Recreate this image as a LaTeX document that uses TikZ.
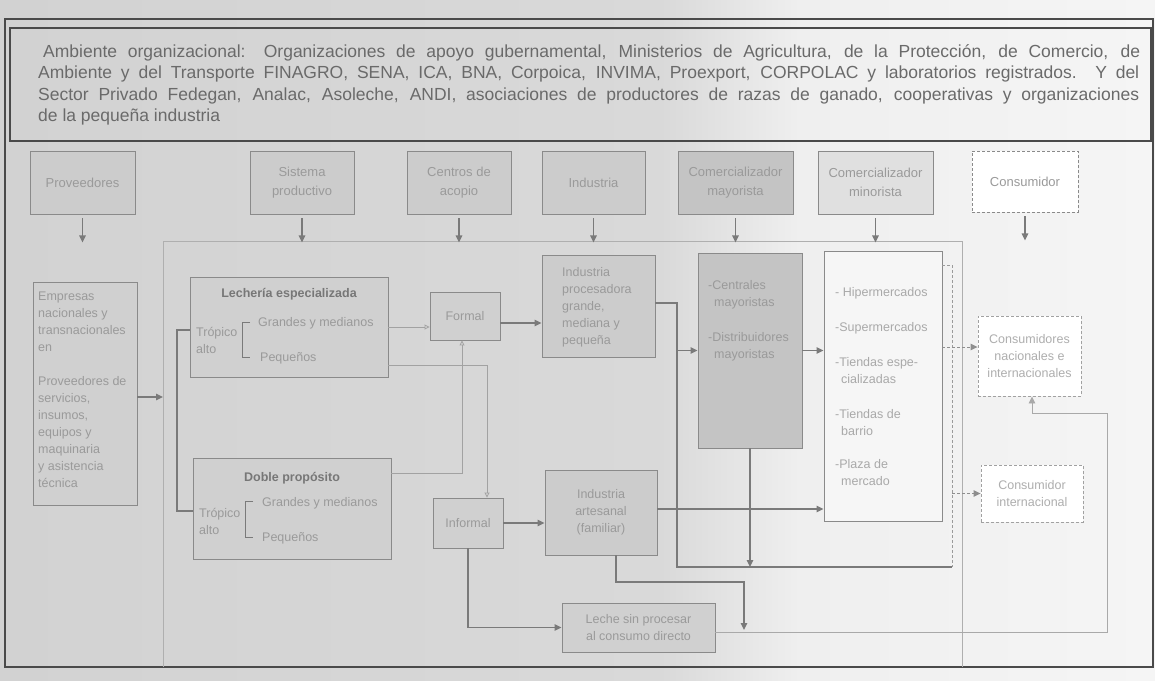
\documentclass[tikz,border=0pt]{standalone}
\usepackage{fontspec}
\setmainfont{Liberation Sans}
\usetikzlibrary{arrows.meta}
\definecolor{bgL}{HTML}{D2D2D2}
\definecolor{bgM}{HTML}{D9D9D9}
\definecolor{bgR}{HTML}{EFEFEF}
\definecolor{bgW}{HTML}{F5F5F5}
\definecolor{boxcol}{HTML}{8A8A8A}
\definecolor{lncol}{HTML}{7A7A7A}
\definecolor{txtcol}{HTML}{9A9A9A}
\definecolor{ttlcol}{HTML}{777777}
\definecolor{hdrcol}{HTML}{6A6A6A}
\definecolor{framecol}{HTML}{4A4A4A}
\definecolor{fillA}{HTML}{CCCCCC}
\definecolor{fillB}{HTML}{C4C4C4}
\definecolor{fillC}{HTML}{E0E0E0}
\definecolor{fillL}{HTML}{D0D0D0}
\definecolor{fillW}{HTML}{F6F6F6}
\newcommand\hdrfnt{\fontsize{17.5}{21}\selectfont}
\newcommand\topfnt{\fontsize{13}{19}\selectfont}
\newcommand\bodyfnt{\fontsize{12.5}{17}\selectfont}
\newcommand\ttlfnt{\fontsize{12.5}{17}\selectfont\bfseries}
\begin{document}
\begin{tikzpicture}[x=1pt,y=-1pt,
  box/.style={draw=boxcol, line width=0.9pt, inner sep=0pt, align=center, text=txtcol, font=\topfnt},
  bbox/.style={box, font=\bodyfnt},
  txt/.style={inner sep=0pt, text=txtcol, font=\bodyfnt, align=left},
  hdr/.style={inner sep=0pt, text=hdrcol, font=\hdrfnt},
  arr/.style={draw=lncol, line width=1.3pt, -{Triangle[length=7pt,width=6.5pt]}},
  ln/.style={draw=lncol, line width=1.3pt},
  farr/.style={draw=lncol!70, line width=0.8pt, -{Triangle[open,length=5pt,width=5pt]}},
  darr/.style={draw=lncol!85, line width=1pt, densely dashed, -{Triangle[length=7pt,width=6.5pt]}},
  dln/.style={draw=lncol!75, line width=0.9pt, densely dashed},
  fbarr/.style={draw=lncol!65, line width=0.9pt, -{Triangle[length=7pt,width=6.5pt]}},
  frame/.style={draw=framecol, line width=1.5pt},
]
\useasboundingbox (0,0) rectangle (1155,680);
% scanned page background
\shade[left color=bgL, right color=bgM] (0,0) rectangle (660,680);
\shade[left color=bgM, right color=bgR] (660,0) rectangle (800,680);
\shade[left color=bgR, right color=bgW] (800,0) rectangle (1155,680);

% frames
\draw[frame] (5,19) rectangle (1153,667);
\draw[frame, line width=1.3pt] (10,28) rectangle (1151,141);
\draw[draw=lncol!60, line width=0.8pt] (163,667) -- (163,241) -- (962,241) -- (962,667);

% header text
\node[hdr, anchor=base west] (h1) at (43,57) {\makebox[1097pt][s]{Ambiente organizacional: Organizaciones de apoyo gubernamental, Ministerios de Agricultura, de la Protección, de Comercio, de}};
\node[hdr, anchor=base west] (h2) at (38,78.5) {\makebox[1101pt][s]{Ambiente y del Transporte FINAGRO, SENA, ICA, BNA, Corpoica, INVIMA, Proexport, CORPOLAC y laboratorios registrados. Y del}};
\node[hdr, anchor=base west] (h3) at (38,100) {\makebox[1101pt][s]{Sector Privado Fedegan, Analac, Asoleche, ANDI, asociaciones de productores de razas de ganado, cooperativas y organizaciones}};
\node[hdr, anchor=base west] (h4) at (38,121.5) {de la pequeña industria};

% top row
\node[box, fill=fillA, minimum width=105pt, minimum height=63pt] (prov) at (82.5,182.5) {Proveedores};
\node[box, fill=fillA, minimum width=104pt, minimum height=63pt] (sist) at (302,182.5) {Sistema\\productivo};
\node[box, fill=fillA, minimum width=104pt, minimum height=63pt] (cent) at (459,182.5) {Centros de\\acopio};
\node[box, fill=fillA, minimum width=103pt, minimum height=63pt] (indu) at (593.5,182.5) {Industria};
\node[box, fill=fillB, minimum width=115pt, minimum height=63pt] (cmay) at (735.5,182.5) {Comercializador\\mayorista};
\node[box, fill=fillC, minimum width=115pt, minimum height=63pt] (cmin) at (875.5,182.5) {Comercializador\\minorista};
\node[box, fill=white, densely dashed, minimum width=106pt, minimum height=61pt] (cons) at (1025,181.5) {Consumidor};
\foreach \n in {prov,sist,cent,indu,cmay,cmin,cons}
  \draw[arr] ([yshift=-4pt]\n.south) -- ++(0,24);

% proveedores detail
\node[bbox, fill=fillL, minimum width=104pt, minimum height=223pt] (emp) at (85,393.5) {};
\node[txt, anchor=north west] (empt) at (38,292) {Empresas\\nacionales y\\transnacionales\\en\\[17pt]Proveedores de\\servicios,\\insumos,\\equipos y\\maquinaria\\y asistencia\\técnica};
\coordinate (fl) at (163,397);
\draw[arr] (emp.east |- fl) -- (fl);

% sistema productivo
\node[bbox, fill=fillL, minimum width=198pt, minimum height=100pt] (lech) at (289,327) {};
\node[txt, font=\ttlfnt, text=ttlcol] (lecht) at (289,294) {Lechería especializada};
\node[txt, anchor=north west] (ta1) at (196,327) {Trópico\\alto};
\node[txt, anchor=west] (g1) at (258,323) {Grandes y medianos};
\node[txt, anchor=west] (p1) at (260,358) {Pequeños};
\draw[ln, line width=1pt] (250,322) -- (242,322) -- (242,357) -- (250,357);

\node[bbox, fill=fillL, minimum width=198pt, minimum height=101pt] (doble) at (292,508.5) {};
\node[txt, font=\ttlfnt, text=ttlcol] (doblet) at (292,478) {Doble propósito};
\node[txt, anchor=north west] (ta2) at (199,508) {Trópico\\alto};
\node[txt, anchor=west] (g2) at (262,503) {Grandes y medianos};
\node[txt, anchor=west] (p2) at (262,538) {Pequeños};
\draw[ln, line width=1pt] (253,501) -- (245,501) -- (245,537) -- (253,537);

\coordinate (b1) at (177,330);
\coordinate (b2) at (177,511);
\draw[ln, line width=1.1pt] (lech.west |- b1) -- (b1) -- (b2) -- (doble.west |- b2);

% acopio
\node[bbox, fill=fillL, minimum width=70pt, minimum height=48pt] (formal) at (465,316) {Formal};
\node[bbox, fill=fillL, minimum width=70pt, minimum height=50pt] (informal) at (468,523) {Informal};

% industria
\node[bbox, fill=fillA, minimum width=113pt, minimum height=102pt] (iproc) at (598.5,306) {};
\node[txt, anchor=north west] (iproct) at (562,267) {Industria\\procesadora\\grande,\\mediana y\\pequeña};
\node[bbox, fill=fillA, minimum width=112pt, minimum height=85pt] (iart) at (601,512.5) {Industria\\artesanal\\(familiar)};
\node[bbox, fill=fillL, minimum width=153pt, minimum height=49pt] (leche) at (638.5,627.5) {Leche sin procesar\\al consumo directo};

% comercializadores
\node[bbox, fill=fillB, minimum width=104pt, minimum height=195pt] (may) at (750,350.5) {};
\node[txt, anchor=north west] (mayt) at (708,280) {-Centrales\\\hspace*{6pt}mayoristas\\[18pt]-Distribuidores\\\hspace*{6pt}mayoristas};
\node[bbox, fill=fillW, minimum width=118pt, minimum height=270pt] (min) at (883,386) {};
\node[txt, anchor=north west, text=txtcol!85] (mint) at (835,287) {- Hipermercados\\[18pt]-Supermercados\\[18pt]-Tiendas espe-\\\hspace*{6pt}cializadas\\[18pt]-Tiendas de\\\hspace*{6pt}barrio\\[16pt]-Plaza de\\\hspace*{6pt}mercado};

% consumidores
\node[bbox, fill=white, densely dashed, draw=boxcol!80, text=txtcol!80, minimum width=103pt, minimum height=80pt] (cni) at (1029.5,356) {Consumidores\\nacionales e\\internacionales};
\node[bbox, fill=white, densely dashed, draw=boxcol!80, text=txtcol!80, minimum width=102pt, minimum height=57pt] (cint) at (1032,493.5) {Consumidor\\internacional};

% connectors
\draw[farr] (lech.east |- 0,327) -- (formal.west |- 0,327);
\draw[farr] (lech.east |- 0,365) -| (informal.north -| 487,0);
\draw[farr] (doble.east |- 0,473) -| (formal.south -| 462,0);
\draw[arr] (formal.east |- 0,323) -- (iproc.west |- 0,323);
\draw[arr] (informal.east) -- (iart.west |- informal.east);
\draw[arr] (informal.south) |- (leche.west);

\coordinate (bus1) at (677,567);
\coordinate (bus2) at (952,567);
\draw[ln] (iproc.east |- 0,303) -| (bus1) -- (bus2);
\draw[arr] (bus1 |- may.west) -- (may.west);
\draw[arr] (may.south) -- (may.south |- bus1);
\draw[dln] (min.east |- 0,265) -| (bus2);
\draw[arr] (may.east) -- (min.west |- may.east);
\draw[arr] (iart.east |- 0,509) -- (min.west |- 0,509);
\draw[darr] (min.east |- 0,347) -- (cni.west |- 0,347);
\draw[darr] (bus2 |- cint.west) -- (cint.west);

\coordinate (j1) at (744,582);
\draw[arr] (iart.south -| 616,0) |- (j1) -- (j1 |- 0,630);

\coordinate (fb) at (1107,413);
\draw[fbarr] (leche.east |- 0,632) -| (fb) -| (cni.south -| 1032,0);
\end{tikzpicture}
\end{document}
